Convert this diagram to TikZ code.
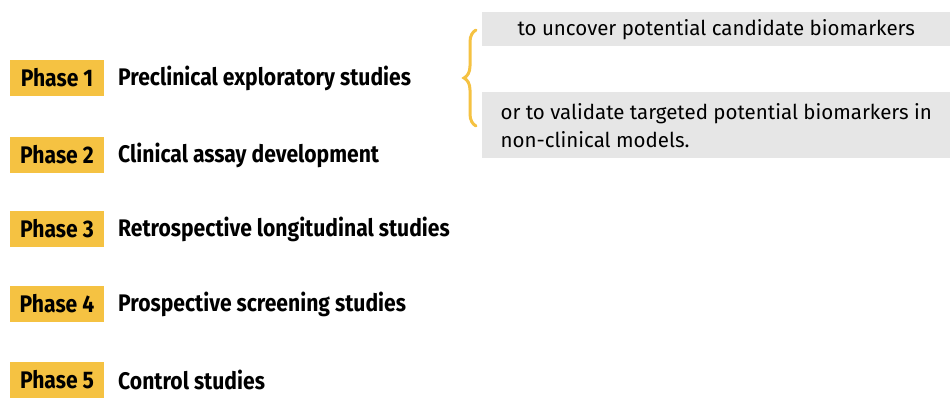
\documentclass[tikz,border=0pt]{standalone}
\usepackage{fontspec}
\setmainfont{Fira Sans}
\usetikzlibrary{positioning,decorations.pathreplacing}
\definecolor{phaseyellow}{HTML}{F5C242}
\definecolor{notegray}{HTML}{E6E6E6}
\newcommand{\cond}[1]{\scalebox{0.88}[1]{#1}}
\tikzstyle{phase}=[fill=phaseyellow,minimum width=94pt,minimum height=36pt,inner sep=0pt,font=\fontsize{24}{26}\selectfont\bfseries]
\tikzstyle{title}=[anchor=west,inner sep=0pt,font=\fontsize{24}{26}\selectfont\bfseries]
\tikzstyle{note}=[fill=notegray,anchor=north west,inner xsep=8pt,inner ysep=4pt,minimum width=468pt,align=left,font=\fontsize{20.5}{28}\selectfont]
\begin{document}
\begin{tikzpicture}[x=1pt,y=-1pt]
        \useasboundingbox (0,0) rectangle (952,406);
        \foreach \i/\y/\t in {1/78/Preclinical exploratory studies,2/155/Clinical assay development,3/229/Retrospective longitudinal studies,4/304/Prospective screening studies,5/380/Control studies}{
            \node[phase] (p\i) at (57,\y) {\cond{Phase \i}};
            \node[title] (t\i) at (118,\y) {\cond{\t}};
        }
        \node[note,minimum height=34pt] (n1) at (482,12) {to uncover potential candidate biomarkers};
        \node[note,minimum height=66pt] (n2) at (482,92) {or to validate targeted potential biomarkers in\\non-clinical models.};
        \coordinate (b1) at (476,126);
        \coordinate (b2) at (476,30);
        \draw[phaseyellow,line width=3pt,line cap=round,decorate,decoration={brace,amplitude=12pt}] (b1) -- (b2);
    \end{tikzpicture}
\end{document}
